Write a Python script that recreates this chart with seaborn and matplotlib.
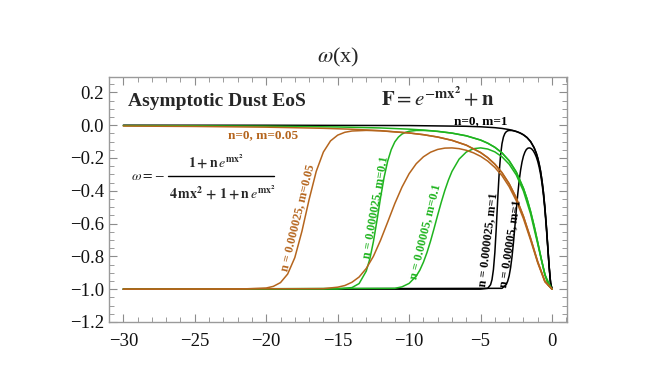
import numpy as np
import pandas as pd
import matplotlib
matplotlib.use("Agg")
import matplotlib.pyplot as plt
import seaborn as sns

# ---------------- data ----------------
# black family (m = 1)
x_b0 = [-30, -20, -10, -6, -5, -4, -3.5, -3, -2.75, -2.5, -2.25, -2, -1.75, -1.5, -1.25, -1.1, -1.0, -0.9, -0.8, -0.7, -0.6, -0.5, -0.4, -0.3, -0.2, -0.1, 0]
w_b0 = [-0.0003, -0.0006, -0.0025, -0.0069, -0.0099, -0.0154, -0.020, -0.027, -0.032, -0.0385, -0.047, -0.0588, -0.0755, -0.100, -0.138, -0.171, -0.200, -0.236, -0.281, -0.338, -0.410, -0.500, -0.610, -0.735, -0.862, -0.962, -1.0]

x_b1 = [-30, -5, -4.5, -4.3, -4.2, -4.1, -4.0, -3.9, -3.8, -3.7, -3.6, -3.5, -3.4, -3.3, -3.2, -3.1, -3.0, -2.8, -2.6, -2.4, -2.2, -2.0, -1.75, -1.5, -1.25, -1.1, -1.0, -0.9, -0.8, -0.7, -0.6, -0.5, -0.4, -0.3, -0.2, -0.1, 0]
w_b1 = [-1.0, -1.0, -0.995, -0.973, -0.942, -0.881, -0.777, -0.626, -0.452, -0.296, -0.183, -0.113, -0.0726, -0.051, -0.0399, -0.0345, -0.0323, -0.0328, -0.0364, -0.0419, -0.0493, -0.0589, -0.0755, -0.100, -0.138, -0.171, -0.200, -0.236, -0.281, -0.338, -0.410, -0.500, -0.610, -0.735, -0.862, -0.962, -1.0]

x_b2 = [-30, -3.5, -3.2, -3.1, -3.0, -2.9, -2.8, -2.7, -2.6, -2.5, -2.4, -2.3, -2.2, -2.1, -2.0, -1.9, -1.8, -1.7, -1.6, -1.5, -1.4, -1.3, -1.2, -1.1, -1.0, -0.9, -0.8, -0.7, -0.6, -0.5, -0.4, -0.3, -0.2, -0.1, 0]
w_b2 = [-1.0, -0.995, -0.972, -0.951, -0.919, -0.870, -0.803, -0.718, -0.621, -0.518, -0.423, -0.340, -0.275, -0.225, -0.189, -0.165, -0.149, -0.141, -0.1386, -0.1407, -0.147, -0.158, -0.174, -0.194, -0.221, -0.256, -0.300, -0.356, -0.427, -0.516, -0.623, -0.746, -0.868, -0.963, -1.0]

# green family (m = 0.1)
x_g0 = [-30, -25, -20, -15, -12, -10, -9, -8, -7, -6, -5, -4.5, -4, -3.5, -3, -2.5, -2, -1.75, -1.5, -1.25, -1, -0.75, -0.5, -0.25, 0]
w_g0 = [-0.0028, -0.0040, -0.0062, -0.011, -0.0171, -0.0244, -0.0299, -0.0376, -0.0485, -0.065, -0.0909, -0.110, -0.135, -0.169, -0.217, -0.286, -0.385, -0.449, -0.526, -0.615, -0.714, -0.816, -0.909, -0.976, -1.0]

x_g1 = [-30, -15, -14, -13.5, -13, -12.75, -12.5, -12.25, -12, -11.75, -11.5, -11.25, -11, -10.75, -10.5, -10.25, -10, -9.5, -9, -8.5, -8, -7, -6, -5, -4.5, -4, -3.5, -3, -2.5, -2, -1.75, -1.5, -1.25, -1, -0.75, -0.5, -0.25, 0]
w_g1 = [-1.0, -0.999, -0.9905, -0.966, -0.890, -0.816, -0.711, -0.581, -0.443, -0.318, -0.219, -0.149, -0.102, -0.073, -0.0544, -0.0438, -0.0373, -0.0324, -0.0323, -0.0346, -0.0382, -0.0487, -0.065, -0.0909, -0.110, -0.135, -0.169, -0.217, -0.286, -0.385, -0.449, -0.526, -0.615, -0.714, -0.816, -0.909, -0.976, -1.0]

x_g2 = [-30, -11, -10.5, -10, -9.5, -9.25, -9, -8.75, -8.5, -8.25, -8, -7.75, -7.5, -7.25, -7, -6.5, -6, -5.5, -5, -4.5, -4, -3.5, -3, -2.5, -2, -1.5, -1, -0.5, 0]
w_g2 = [-1.0, -0.995, -0.986, -0.965, -0.920, -0.884, -0.836, -0.777, -0.707, -0.629, -0.548, -0.470, -0.398, -0.335, -0.282, -0.207, -0.164, -0.1437, -0.1386, -0.1455, -0.163, -0.193, -0.238, -0.304, -0.402, -0.541, -0.725, -0.913, -1.0]

# brown family (m = 0.05)
x_r0 = [-30, -25, -20, -16, -14, -12, -10, -9, -8, -7, -6, -5, -4.5, -4, -3.5, -3, -2.5, -2, -1.5, -1, -0.5, 0]
w_r0 = [-0.0055, -0.0079, -0.0123, -0.0192, -0.0249, -0.0336, -0.0476, -0.0581, -0.0725, -0.0926, -0.122, -0.167, -0.198, -0.238, -0.290, -0.357, -0.444, -0.556, -0.690, -0.833, -0.952, -1.0]

x_r1 = [-30, -22, -20, -19.5, -19, -18.5, -18, -17.5, -17, -16.5, -16, -15.5, -15, -14.5, -14, -13, -12, -10, -9, -8, -7, -6, -5, -4.5, -4, -3.5, -3, -2.5, -2, -1.5, -1, -0.5, 0]
w_r1 = [-1.0, -1.0, -0.993, -0.983, -0.960, -0.908, -0.808, -0.647, -0.454, -0.282, -0.164, -0.096, -0.061, -0.0436, -0.0357, -0.032, -0.0346, -0.0478, -0.0581, -0.0725, -0.0926, -0.122, -0.167, -0.198, -0.238, -0.290, -0.357, -0.444, -0.556, -0.690, -0.833, -0.952, -1.0]

x_r2 = [-30, -16, -15, -14.5, -14, -13.5, -13, -12.5, -12, -11.5, -11, -10.5, -10, -9.5, -9, -8.5, -8, -7.5, -7, -6.5, -6, -5.5, -5, -4.5, -4, -3.5, -3, -2.5, -2, -1.5, -1, -0.5, 0]
w_r2 = [-1.0, -0.997, -0.988, -0.978, -0.958, -0.926, -0.874, -0.800, -0.702, -0.591, -0.478, -0.378, -0.296, -0.235, -0.193, -0.165, -0.148, -0.140, -0.1388, -0.1433, -0.1532, -0.1686, -0.190, -0.219, -0.258, -0.308, -0.375, -0.461, -0.570, -0.701, -0.840, -0.955, -1.0]

BLACK = "#000000"
GREEN = "#1FB41F"
BROWN = "#B5651D"

# drawing order: black (bottom), green, brown (top)
curves = [
    (x_b0, w_b0, BLACK), (x_b1, w_b1, BLACK), (x_b2, w_b2, BLACK),
    (x_g0, w_g0, GREEN), (x_g1, w_g1, GREEN), (x_g2, w_g2, GREEN),
    (x_r0, w_r0, BROWN), (x_r1, w_r1, BROWN), (x_r2, w_r2, BROWN),
]

x_ticks = [-30, -25, -20, -15, -10, -5, 0]
y_ticks = [-1.2, -1.0, -0.8, -0.6, -0.4, -0.2, 0.0, 0.2]

# ---------------- plotting ----------------
sns.set_theme(style="white")
plt.rcParams["font.family"] = ["Liberation Serif", "DejaVu Serif"]
plt.rcParams["mathtext.fontset"] = "stix"

fig = plt.figure(figsize=(6.54, 3.81), dpi=100)
ax = fig.add_axes([0.1667, 0.155, 0.7003, 0.6435])

for xs, ws, c in curves:
    sns.lineplot(x=xs, y=ws, color=c, lw=1.1, sort=False, estimator=None, ax=ax)

ax.set_xlim(-31.0, 1.05)
ax.set_ylim(-1.2, 0.295)
ax.set_xticks(x_ticks)
ax.set_xticklabels(["\u221230", "\u221225", "\u221220", "\u221215", "\u221210", "\u22125", "0"])
ax.set_yticks(y_ticks)
ax.set_yticklabels(["\u22121.2", "\u22121.0", "\u22120.8", "\u22120.6", "\u22120.4", "\u22120.2", "0.0", "0.2"])
ax.set_xticks(np.arange(-31, 2, 1), minor=True)
ax.set_yticks(np.arange(-1.2, 0.3, 0.05), minor=True)
ax.tick_params(which="both", direction="in", top=True, right=True, bottom=True, left=True,
               color="#8c8c8c", labelsize=13.5, labelcolor="#111111")
ax.tick_params(axis="x", which="major", pad=8)
ax.tick_params(which="major", length=6, width=0.8)
ax.tick_params(which="minor", length=3.5, width=0.6)
for sp in ax.spines.values():
    sp.set_color("#9a9a9a")
    sp.set_linewidth(1.0)
ax.set_xlabel("")
ax.set_ylabel("")

ax.set_title(r"$\omega$(x)", fontsize=16, pad=10)

# annotations
ax.text(-29.65, 0.145, "Asymptotic Dust EoS", fontsize=14, fontweight="bold", va="center", ha="left")
ax.text(-8.0, 0.16, r"$\mathbf{F} = e^{-\mathbf{mx}^{\mathbf{2}}} + \mathbf{n}$", fontsize=15, va="center", ha="center")

# the omega formula, built as a stacked fraction
ax.text(-28.3, -0.315, r"$\omega = -$", fontsize=10, va="center", ha="center")
ax.text(-23.5, -0.222, r"$\mathbf{1 + n}\,e^{\mathbf{mx}^{\mathbf{2}}}$", fontsize=10, va="center", ha="center")
ax.text(-23.1, -0.41, r"$\mathbf{4\,mx}^{\mathbf{2}}\mathbf{\,+\,1 + n}\,e^{\mathbf{mx}^{\mathbf{2}}}$", fontsize=10, va="center", ha="center")
ax.plot([-26.85, -19.45], [-0.309, -0.309], color="black", lw=1.0)

ax.text(-20.2, -0.062, "n=0, m=0.05", color=BROWN, fontsize=9.5, fontweight="bold", ha="center", va="center")
ax.text(-5.0, 0.022, "n=0, m=1", color=BLACK, fontsize=9.5, fontweight="bold", ha="center", va="center")
ax.text(-17.8, -0.565, "n = 0.000025, m=0.05", color=BROWN, fontsize=8.7, fontweight="bold",
        ha="center", va="center", rotation=76)
ax.text(-12.4, -0.50, "n = 0.000025, m=0.1", color=GREEN, fontsize=8.7, fontweight="bold",
        ha="center", va="center", rotation=80)
ax.text(-8.9, -0.65, "n = 0.00005, m=0.1", color=GREEN, fontsize=8.7, fontweight="bold",
        ha="center", va="center", rotation=76)
ax.text(-4.5, -0.70, "n = 0.000025, m=1", color=BLACK, fontsize=8.7, fontweight="bold",
        ha="center", va="center", rotation=83)
ax.text(-2.9, -0.72, "n = 0.00005, m=1", color=BLACK, fontsize=8.7, fontweight="bold",
        ha="center", va="center", rotation=81)

fig.savefig("out.png", dpi=100)
